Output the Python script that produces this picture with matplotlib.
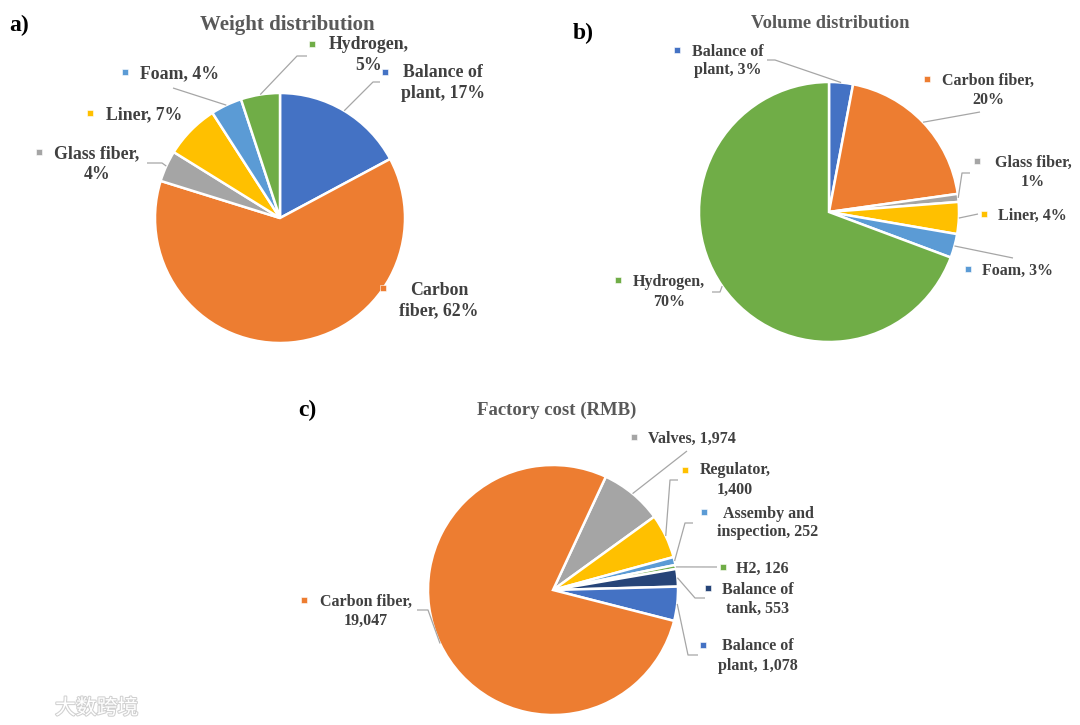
import textwrap
import matplotlib
matplotlib.use("Agg")
import matplotlib.pyplot as plt
import matplotlib.patheffects as pe
import numpy as np

W, H = 1080, 725
SERIF = ["Liberation Serif", "DejaVu Serif"]
TXT = "#404040"
LEAD = "#A6A6A6"

BLUE, ORANGE, GRAY, GOLD = "#4472C4", "#ED7D31", "#A5A5A5", "#FFC000"
LBLUE, GREEN, NAVY = "#5B9BD5", "#70AD47", "#264478"

# a) weight distribution, %
weight_names = ["Balance of plant", "Carbon fiber", "Glass fiber", "Liner", "Foam", "Hydrogen"]
weight_pct = [17, 62, 4, 7, 4, 5]
weight_colors = [BLUE, ORANGE, GRAY, GOLD, LBLUE, GREEN]

# b) volume distribution, %
volume_names = ["Balance of plant", "Carbon fiber", "Glass fiber", "Liner", "Foam", "Hydrogen"]
volume_pct = [3, 20, 1, 4, 3, 70]
volume_colors = [BLUE, ORANGE, GRAY, GOLD, LBLUE, GREEN]

# c) factory cost, RMB
cost_names = ["Valves", "Regulator", "Assemby and inspection", "H2",
              "Balance of tank", "Balance of plant", "Carbon fiber"]
cost_rmb = [1974, 1400, 252, 126, 553, 1078, 19047]
cost_colors = [GRAY, GOLD, LBLUE, GREEN, NAVY, BLUE, ORANGE]

# label layout in pixels: text centre, marker, wrap width, leader points (after the wedge point)
weight_layout = [
    ((443, 83), (385, 72), 10, [(373, 82), (380, 82)]),
    ((439, 301), (383, 288), 10, []),
    ((97, 164), (39, 152), 12, [(162, 163), (147, 163)]),
    ((144, 115), (90, 113), 20, []),
    ((179, 74), (125, 72), 20, [(173, 88)]),
    ((369, 55), (312, 44), 9, [(297, 56), (307, 56)]),
]
volume_layout = [
    ((728, 61), (677, 50), 10, [(775, 60), (767, 60)]),
    ((988, 90), (927, 79), 13, [(980, 112)]),
    ((1033, 172), (977, 161), 12, [(962, 173), (970, 173)]),
    ((1032, 216), (984, 214), 20, [(978, 214)]),
    ((1018, 271), (968, 269), 20, [(1013, 258)]),
    ((669, 292), (618, 280), 9, [(720, 292), (712, 292)]),
]
cost_layout = [
    ((692, 439), (634, 437), 20, [(687, 451)]),
    ((735, 480), (685, 470), 10, [(670, 480), (678, 480)]),
    ((768, 523), (704, 512), 15, [(685, 523), (693, 523)]),
    ((762, 569), (723, 567), 20, [(717, 567)]),
    ((758, 599), (708, 588), 10, [(695, 598), (705, 598)]),
    ((758, 656), (703, 645), 12, [(688, 655), (698, 655)]),
    ((366, 611), (304, 600), 13, [(428, 610), (417, 610)]),
]

fig = plt.figure(figsize=(W / 100, H / 100), dpi=100)
fig.patch.set_facecolor("white")


def ftext(x, y, s, **kw):
    fig.text(x / W, 1 - y / H, s, ha="center", va="center", family=SERIF,
             fontweight="bold", **kw)


def draw_pie(cx, cy, r, values, names, colors, start, layout, fmt, fs, ms):
    ax = fig.add_axes([0, 0, 1, 1])
    wedges, _ = ax.pie(values, colors=colors, startangle=start, counterclock=False,
                       wedgeprops=dict(edgecolor="white", linewidth=1.8))
    ax.set_xlim(-cx / r, (W - cx) / r)
    ax.set_ylim(-(H - cy) / r, cy / r)
    ax.set_aspect("auto")
    ax.set_axis_off()

    def P(x, y):
        return (x - cx) / r, (cy - y) / r

    for w, name, v, col, (tpos, mpos, wrap, path) in zip(wedges, names, values, colors, layout):
        if path:
            th = np.deg2rad((w.theta1 + w.theta2) / 2)
            pts = [(np.cos(th), np.sin(th))] + [P(*p) for p in path]
            xs, ys = zip(*pts)
            ax.plot(xs, ys, color=LEAD, lw=0.9, solid_capstyle="butt")
        label = textwrap.fill(f"{name}, {fmt(v)}", wrap)
        ax.text(*P(*tpos), label, ha="center", va="center", family=SERIF,
                fontweight="bold", fontsize=fs, color=TXT, linespacing=1.25)
        ax.plot(*P(*mpos), marker="s", ms=ms, color=col, mec="white", mew=0.4)


draw_pie(280, 218, 125, weight_pct, weight_names, weight_colors, 90,
         weight_layout, lambda v: f"{v}%", 12.8, 4.8)
draw_pie(829, 212, 130, volume_pct, volume_names, volume_colors, 90,
         volume_layout, lambda v: f"{v}%", 11.5, 4.0)
draw_pie(553, 590, 125, cost_rmb, cost_names, cost_colors, 65,
         cost_layout, lambda v: f"{v:,}", 11.5, 4.0)

ftext(287, 25, "Weight distribution", fontsize=15, color="#595959")
ftext(830, 23, "Volume distribution", fontsize=13.3, color="#595959")
ftext(557, 410, "Factory cost (RMB)", fontsize=13.5, color="#595959")

ftext(19, 25, "a)", fontsize=17, color="black")
ftext(583, 33, "b)", fontsize=17, color="black")
ftext(307, 410, "c)", fontsize=17, color="black")

fig.text(55 / W, 1 - 708 / H, "大数跨境", ha="left", va="center",
         family=["Noto Sans CJK SC", "DejaVu Sans"], fontsize=15, color="white",
         path_effects=[pe.withStroke(linewidth=1.5, foreground="#D0D0D0")])

fig.savefig("out.png", dpi=100, facecolor="white")
